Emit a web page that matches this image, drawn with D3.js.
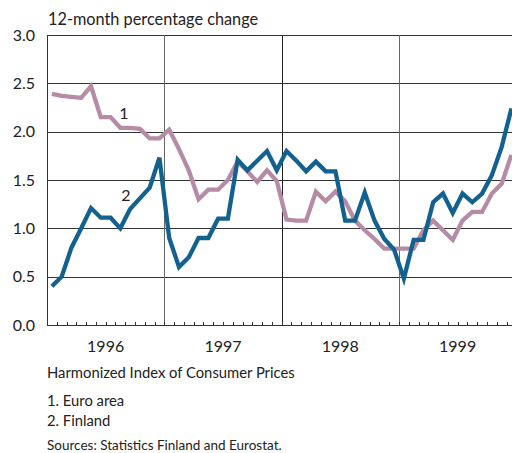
<!DOCTYPE html>
<html>
<head>
<meta charset="utf-8">
<script src="https://cdn.jsdelivr.net/npm/d3@7"></script>
<style>
  body { margin: 0; background: #fff; }
  svg { display: block; font-family: "Lato", "Roboto", sans-serif; }
</style>
</head>
<body>
<div class="svg-container"></div>
<script>
// monthly data, Jan 1996 - Dec 1999
const years = ['1996', '1997', '1998', '1999'];
const euroArea = [
  2.39, 2.37, 2.36, 2.35, 2.47, 2.15, 2.15, 2.04, 2.04, 2.03, 1.93, 1.93,
  2.02, 1.82, 1.60, 1.30, 1.40, 1.40, 1.50, 1.69, 1.59, 1.48, 1.60, 1.49,
  1.09, 1.08, 1.08, 1.38, 1.28, 1.38, 1.28, 1.08, 0.98, 0.89, 0.79, 0.79,
  0.79, 0.79, 0.98, 1.08, 0.98, 0.88, 1.08, 1.17, 1.17, 1.36, 1.46, 1.76
];
const finland = [
  0.40, 0.50, 0.80, 1.00, 1.21, 1.11, 1.11, 1.00, 1.20, 1.31, 1.42, 1.73,
  0.90, 0.60, 0.70, 0.90, 0.90, 1.10, 1.10, 1.71, 1.60, 1.70, 1.80, 1.60,
  1.80, 1.70, 1.59, 1.69, 1.59, 1.59, 1.08, 1.08, 1.37, 1.08, 0.89, 0.78,
  0.48, 0.88, 0.88, 1.27, 1.36, 1.16, 1.36, 1.27, 1.36, 1.55, 1.84, 2.24
];
const yTicks = [0, 0.5, 1, 1.5, 2, 2.5, 3];

const width = 512;
const height = 453;
const margin = { top: 35, left: 47, bottom: 325, right: 516.3 };

const svg = d3.select('.svg-container')
  .append('svg')
  .attr('width', width)
  .attr('height', height);

const x = d3.scaleLinear().domain([0, 48]).range([margin.left, margin.right]);
const y = d3.scaleLinear().domain([0, 3]).range([margin.bottom, margin.top]);

// horizontal gridlines
svg.selectAll('.grid')
  .data(yTicks)
  .enter()
  .append('line')
  .attr('x1', margin.left)
  .attr('x2', width)
  .attr('y1', d => Math.round(y(d)) + 0.5)
  .attr('y2', d => Math.round(y(d)) + 0.5)
  .attr('stroke', '#333')
  .attr('stroke-width', 1);

// year separators
svg.selectAll('.yearline')
  .data([12, 24, 36])
  .enter()
  .append('line')
  .attr('x1', d => Math.round(x(d)) + 0.5)
  .attr('x2', d => Math.round(x(d)) + 0.5)
  .attr('y1', margin.top)
  .attr('y2', margin.bottom)
  .attr('stroke', (d, i) => i === 1 ? '#222' : '#666')
  .attr('stroke-width', 1);

// left axis line
svg.append('line')
  .attr('x1', margin.left + 0.5).attr('x2', margin.left + 0.5)
  .attr('y1', margin.top).attr('y2', margin.bottom)
  .attr('stroke', '#333');

// month ticks
svg.selectAll('.mtick')
  .data(d3.range(1, 48))
  .enter()
  .append('line')
  .attr('x1', d => Math.round(x(d)) + 0.5)
  .attr('x2', d => Math.round(x(d)) + 0.5)
  .attr('y1', margin.bottom)
  .attr('y2', margin.bottom - 3)
  .attr('stroke', '#333');

// y labels
svg.selectAll('.ylab')
  .data(yTicks)
  .enter()
  .append('text')
  .attr('x', 35)
  .attr('y', d => y(d) + 5.5)
  .attr('text-anchor', 'end')
  .attr('font-size', 16)
  .attr('fill', '#222')
  .text(d => d.toFixed(1));

// year labels
svg.selectAll('.xlab')
  .data(years)
  .enter()
  .append('text')
  .attr('x', (d, i) => x(i * 12 + 6))
  .attr('y', 352)
  .attr('text-anchor', 'middle')
  .attr('font-size', 16)
  .attr('fill', '#222')
  .text(d => d);

const line = d3.line()
  .x((d, i) => x(i + 0.5))
  .y(d => y(d));

svg.append('path')
  .datum(euroArea)
  .attr('d', line)
  .attr('fill', 'none')
  .attr('stroke', '#b68ba6')
  .attr('stroke-width', 4.3)
  .attr('stroke-linejoin', 'miter');

svg.append('path')
  .datum(finland)
  .attr('d', line)
  .attr('fill', 'none')
  .attr('stroke', '#12618f')
  .attr('stroke-width', 4.3)
  .attr('stroke-linejoin', 'miter');

// series labels
svg.append('text').attr('x', 124).attr('y', 119)
  .attr('text-anchor', 'middle').attr('font-size', 16).attr('fill', '#222').text('1');
svg.append('text').attr('x', 126).attr('y', 201)
  .attr('text-anchor', 'middle').attr('font-size', 16).attr('fill', '#222').text('2');

// titles and notes
svg.append('text').attr('x', 48).attr('y', 25)
  .attr('font-size', 16.3).attr('fill', '#222').text('12-month percentage change');
svg.append('text').attr('x', 47).attr('y', 378)
  .attr('font-size', 14.8).attr('fill', '#222').text('Harmonized Index of Consumer Prices');
svg.append('text').attr('x', 47).attr('y', 406)
  .attr('font-size', 14.8).attr('fill', '#222').text('1. Euro area');
svg.append('text').attr('x', 47).attr('y', 426)
  .attr('font-size', 14.8).attr('fill', '#222').text('2. Finland');
svg.append('text').attr('x', 47).attr('y', 450)
  .attr('font-size', 13.5).attr('fill', '#222').text('Sources: Statistics Finland and Eurostat.');
</script>
</body>
</html>
